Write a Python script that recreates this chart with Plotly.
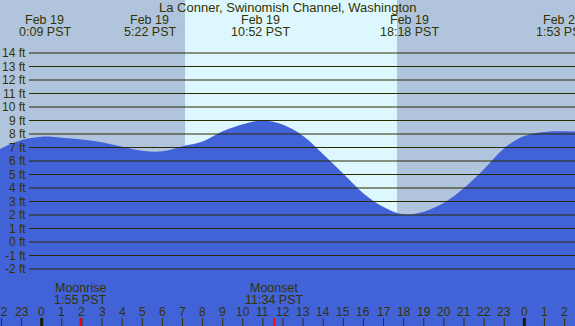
import plotly.graph_objects as go

# ---------------- data ----------------
title_text = "La Conner, Swinomish Channel, Washington"

# tide height (ft) read at whole hours (hours after midnight Feb 19, PST)
tide_hours = list(range(-3, 28))
tide_heights = [6.1, 6.95, 7.55, 7.8, 7.73, 7.6, 7.38, 7.05, 6.76, 6.72, 7.1, 7.45,
                8.2, 8.72, 9.0, 8.68, 7.85, 6.5, 5.05, 3.6, 2.6, 2.05, 2.25, 2.9,
                4.0, 5.4, 6.95, 7.85, 8.15, 8.2, 8.15]

# high / low events
event_hours = [0.15, 5.367, 10.867, 18.3, 25.883]
event_dates = ["Feb 19", "Feb 19", "Feb 19", "Feb 19", "Feb 20"]
event_clock = ["0:09 PST", "5:22 PST", "10:52 PST", "18:18 PST", "1:53 PST"]

# moon events
moon_hours = [1.917, 11.567, 26.87]
moon_names = ["Moonrise", "Moonset", "Moonrise"]
moon_clock = ["1:55 PST", "11:34 PST", "2:52 PST"]

# sun
sunrise_hour = 7.13
sunset_hour = 17.67

# axes ticks
hour_ticks = list(range(-2, 27))
hour_labels = [str(h % 24) for h in hour_ticks]
ft_ticks = list(range(-2, 15))
ft_labels = [f"{v} ft" for v in ft_ticks]

# ---------------- styling ----------------
W, H = 575, 326
X_RANGE = [-2.074, 26.52]
Y_RANGE = [-6.222, 17.926]
NIGHT = "#B0C4DE"
DAY = "#DDF7FF"
WATER = "#4263D8"
INK = "#333300"
GRID = "#2b2b00"
FONT = "Liberation Sans, Arial, sans-serif"
FS = 12.5

def py(pix):
    return 1 - pix / H

fig = go.Figure()

# baseline for fill
fig.add_trace(go.Scatter(x=tide_hours, y=[Y_RANGE[0] - 5] * len(tide_hours),
                         mode="lines", line=dict(width=0), hoverinfo="skip",
                         showlegend=False))
fig.add_trace(go.Scatter(x=tide_hours, y=tide_heights, mode="lines",
                         line=dict(width=0, shape="spline", color=WATER),
                         fill="tonexty", fillcolor=WATER, showlegend=False))

shapes = []
# night / day backgrounds
shapes.append(dict(type="rect", xref="x", yref="paper", x0=X_RANGE[0] - 1, x1=sunrise_hour,
                   y0=0, y1=1, fillcolor=NIGHT, line=dict(width=0), layer="below"))
shapes.append(dict(type="rect", xref="x", yref="paper", x0=sunrise_hour, x1=sunset_hour,
                   y0=0, y1=1, fillcolor=DAY, line=dict(width=0), layer="below"))
shapes.append(dict(type="rect", xref="x", yref="paper", x0=sunset_hour, x1=X_RANGE[1] + 1,
                   y0=0, y1=1, fillcolor=NIGHT, line=dict(width=0), layer="below"))
# gridlines
for v in ft_ticks:
    shapes.append(dict(type="line", xref="paper", yref="y", x0=29 / W, x1=1,
                       y0=v, y1=v, line=dict(color=GRID, width=1), layer="above"))
# hour ticks
for h in hour_ticks:
    mid = (h % 24 == 0)
    shapes.append(dict(type="line", xref="x", yref="paper", x0=h, x1=h,
                       y0=0, y1=8 / H,
                       line=dict(color="#1a1a00" if mid else INK, width=3 if mid else 1),
                       layer="above"))
# moon ticks
for m in moon_hours:
    shapes.append(dict(type="line", xref="x", yref="paper", x0=m, x1=m,
                       y0=0, y1=8 / H, line=dict(color="#ff0000", width=1.5), layer="above"))

ann = []
def txt(x, xref, y, s, xanchor="center", size=FS):
    ann.append(dict(x=x, xref=xref, y=y, yref="paper", text=s, showarrow=False,
                    xanchor=xanchor, yanchor="middle",
                    font=dict(family=FONT, size=size, color=INK)))

txt(0.5, "paper", py(8), title_text, size=13)
for t, d, c in zip(event_hours, event_dates, event_clock):
    txt(t, "x", py(20), d)
    txt(t, "x", py(32), c)
for t, n, c in zip(moon_hours, moon_names, moon_clock):
    txt(t, "x", py(288), n)
    txt(t, "x", py(299.5), c)
for h, l in zip(hour_ticks, hour_labels):
    txt(h, "x", py(312), l, size=12)
for v, l in zip(ft_ticks, ft_labels):
    ann.append(dict(x=27.5 / W, xref="paper", y=v, yref="y", text=l, showarrow=False,
                    xanchor="right", yanchor="middle",
                    font=dict(family=FONT, size=12, color=INK)))

fig.update_layout(
    width=W, height=H, margin=dict(l=0, r=0, t=0, b=0),
    paper_bgcolor=NIGHT, plot_bgcolor=NIGHT,
    xaxis=dict(range=X_RANGE, visible=False, fixedrange=True),
    yaxis=dict(range=Y_RANGE, visible=False, fixedrange=True),
    shapes=shapes, annotations=ann, showlegend=False,
)

fig.write_html("out.html", config=dict(displayModeBar=False),
               post_script="document.body.style.margin='0';document.body.style.overflow='hidden';")
